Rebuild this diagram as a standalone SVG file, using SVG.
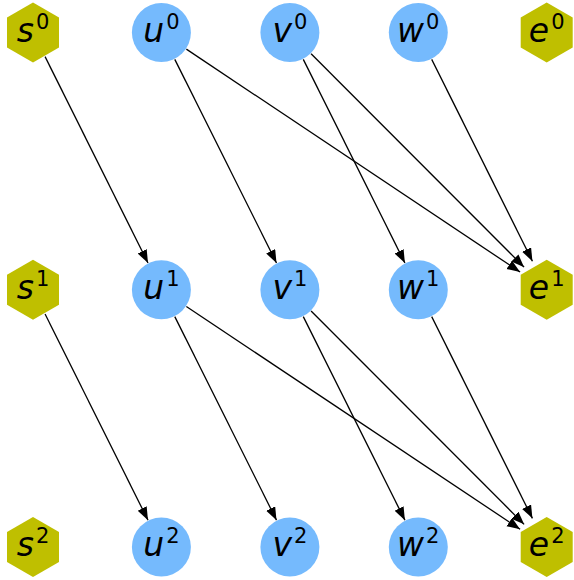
<svg xmlns="http://www.w3.org/2000/svg" width="574" height="580" viewBox="0 0 574 580">
<style>
.hex{fill:#bfbf00}
.cir{fill:#75bafd}
.lbl{font-family:"DejaVu Sans",sans-serif;font-style:italic;font-size:33px;text-anchor:middle;fill:#000}
.sup{font-size:21px;font-style:normal}
.edge{stroke:#000;stroke-width:1.3;fill:none;marker-end:url(#ah)}
</style>
<defs>
<marker id="ah" markerUnits="userSpaceOnUse" markerWidth="14" markerHeight="11" refX="13" refY="5" orient="auto">
<path d="M0,0 L13,5 L0,10 z" fill="#000"/>
</marker>
<polygon id="hx" points="0,-30 26,-15 26,15 0,30 -26,15 -26,-15"/>
</defs>
<rect width="574" height="580" fill="#fff"/>
<g id="edges">
<path class="edge" d="M45.06,56.66 L148.0,262.96"/>
<path class="edge" d="M174.8,59.34 L276.5,262.96"/>
<path class="edge" d="M303.3,59.34 L404.9,262.96"/>
<path class="edge" d="M186.35,49.16 L520.09,272.03"/>
<path class="edge" d="M311.1,53.73 L524.09,267.15"/>
<path class="edge" d="M431.7,59.34 L532.41,261.17"/>
<path class="edge" d="M45.06,313.96 L148.0,520.16"/>
<path class="edge" d="M174.8,316.64 L276.5,520.16"/>
<path class="edge" d="M303.3,316.64 L404.9,520.16"/>
<path class="edge" d="M186.35,306.46 L520.09,529.23"/>
<path class="edge" d="M311.1,311.03 L524.09,524.35"/>
<path class="edge" d="M431.7,316.64 L532.41,518.37"/>
</g>
<g id="s0"><use href="#hx" class="hex" x="33" y="32.5"/><text class="lbl" x="33" y="41.5">s<tspan class="sup" dx="2" dy="-13">0</tspan></text></g>
<g id="u0"><circle class="cir" cx="161.4" cy="32.5" r="29.5"/><text class="lbl" x="161.4" y="41.5">u<tspan class="sup" dx="2" dy="-13">0</tspan></text></g>
<g id="v0"><circle class="cir" cx="289.9" cy="32.5" r="29.5"/><text class="lbl" x="289.9" y="41.5">v<tspan class="sup" dx="2" dy="-13">0</tspan></text></g>
<g id="w0"><circle class="cir" cx="418.3" cy="32.5" r="29.5"/><text class="lbl" x="418.3" y="41.5">w<tspan class="sup" dx="2" dy="-13">0</tspan></text></g>
<g id="e0"><use href="#hx" class="hex" x="546.7" y="32.5"/><text class="lbl" x="546.7" y="41.5">e<tspan class="sup" dx="2" dy="-13">0</tspan></text></g>
<g id="s1"><use href="#hx" class="hex" x="33" y="289.8"/><text class="lbl" x="33" y="298.8">s<tspan class="sup" dx="2" dy="-13">1</tspan></text></g>
<g id="u1"><circle class="cir" cx="161.4" cy="289.8" r="29.5"/><text class="lbl" x="161.4" y="298.8">u<tspan class="sup" dx="2" dy="-13">1</tspan></text></g>
<g id="v1"><circle class="cir" cx="289.9" cy="289.8" r="29.5"/><text class="lbl" x="289.9" y="298.8">v<tspan class="sup" dx="2" dy="-13">1</tspan></text></g>
<g id="w1"><circle class="cir" cx="418.3" cy="289.8" r="29.5"/><text class="lbl" x="418.3" y="298.8">w<tspan class="sup" dx="2" dy="-13">1</tspan></text></g>
<g id="e1"><use href="#hx" class="hex" x="546.7" y="289.8"/><text class="lbl" x="546.7" y="298.8">e<tspan class="sup" dx="2" dy="-13">1</tspan></text></g>
<g id="s2"><use href="#hx" class="hex" x="33" y="547"/><text class="lbl" x="33" y="556">s<tspan class="sup" dx="2" dy="-13">2</tspan></text></g>
<g id="u2"><circle class="cir" cx="161.4" cy="547" r="29.5"/><text class="lbl" x="161.4" y="556">u<tspan class="sup" dx="2" dy="-13">2</tspan></text></g>
<g id="v2"><circle class="cir" cx="289.9" cy="547" r="29.5"/><text class="lbl" x="289.9" y="556">v<tspan class="sup" dx="2" dy="-13">2</tspan></text></g>
<g id="w2"><circle class="cir" cx="418.3" cy="547" r="29.5"/><text class="lbl" x="418.3" y="556">w<tspan class="sup" dx="2" dy="-13">2</tspan></text></g>
<g id="e2"><use href="#hx" class="hex" x="546.7" y="547"/><text class="lbl" x="546.7" y="556">e<tspan class="sup" dx="2" dy="-13">2</tspan></text></g>
</svg>
